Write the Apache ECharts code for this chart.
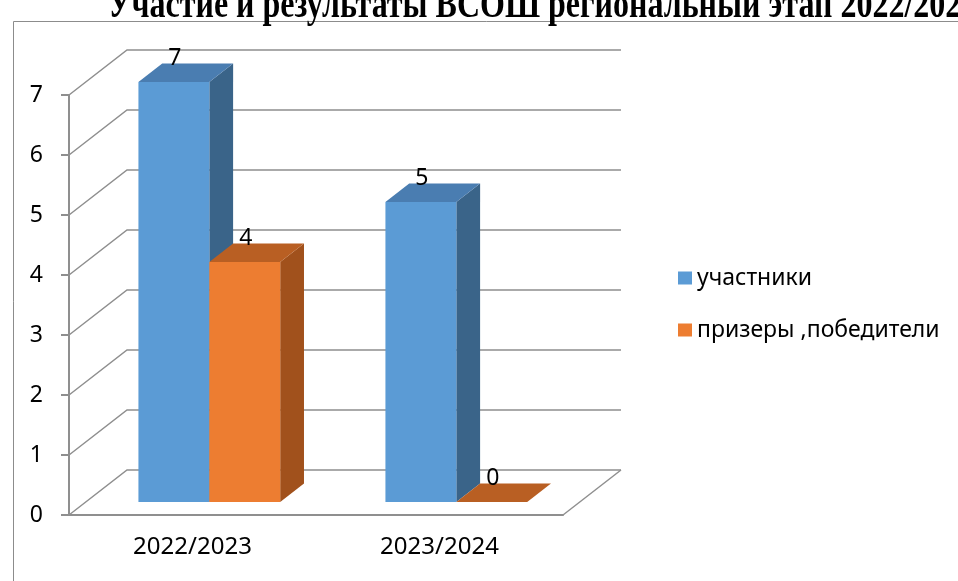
<!DOCTYPE html>
<html>
<head>
<meta charset="utf-8">
<script src="https://cdn.jsdelivr.net/npm/echarts@6/dist/echarts.min.js"></script>
<style>
html, body { margin: 0; padding: 0; background: #fff; }
#chart { width: 958px; height: 581px; }
</style>
</head>
<body>
<div id="chart"></div>
<script>
// данные
var categories = ["2022/2023", "2023/2024"];
var seriesNames = ["участники", "призеры ,победители"];
var participants = [7, 5];
var winners = [4, 0];
var yTicks = [0, 1, 2, 3, 4, 5, 6, 7];
var titleText = "Участие и результаты ВСОШ региональный этап 2022/2024";

var chart = echarts.init(document.getElementById("chart"));

// псевдо-3D: сдвиг задней стенки
var DX = 58, DY = -45;
var FRONT = 0.29, BACK = 0.70;
var BAR = 0.287;
var lineColor = "#8f8f8f";

var faces = [
  { front: "#5B9BD5", top: "#4A7DB1", side: "#3A6489" },
  { front: "#ED7D31", top: "#B95F23", side: "#A1511C" }
];

function wallItem(params, api) {
  var cs = params.coordSys;
  var y = api.coord([0, api.value(1)])[1];
  var x0 = cs.x, x1 = cs.x + cs.width;
  var children = [{
    type: "polyline",
    shape: { points: [[x0, y], [x0 + DX, y + DY], [x1 + DX, y + DY]] },
    style: { stroke: lineColor, lineWidth: 1.5, fill: null },
    silent: true
  }];
  if (api.value(1) === 0) {
    children.push({
      type: "line",
      shape: { x1: x1, y1: y, x2: x1 + DX, y2: y + DY },
      style: { stroke: lineColor, lineWidth: 1.5 },
      silent: true
    });
  }
  return { type: "group", children: children };
}

function barItem(params, api) {
  var k = params.seriesIndex - 1;
  var f = faces[k];
  var c = api.coord([api.value(0), api.value(1)]);
  var base = api.coord([api.value(0), 0]);
  var bw = api.size([1, 0])[0] * BAR;
  var bx = DX * (BACK - FRONT), by = DY * (BACK - FRONT);
  var left = c[0] + DX * FRONT + (k === 0 ? -bw : 0);
  var top = c[1] + DY * FRONT;
  var bottom = base[1] + DY * FRONT;
  return {
    type: "group",
    children: [
      {
        type: "polygon",
        shape: { points: [[left + bw, top], [left + bw + bx, top + by], [left + bw + bx, bottom + by], [left + bw, bottom]] },
        style: { fill: f.side }
      },
      {
        type: "rect",
        shape: { x: left, y: top, width: bw, height: bottom - top },
        style: { fill: f.front }
      },
      {
        type: "polygon",
        shape: { points: [[left, top], [left + bw, top], [left + bw + bx, top + by], [left + bx, top + by]] },
        style: { fill: f.top }
      },
      {
        type: "text",
        style: {
          text: String(api.value(1)),
          x: left + bw / 2 + 1,
          y: top + by + 6,
          align: "center",
          verticalAlign: "bottom",
          fill: "#000",
          font: "23px 'Noto Sans'"
        }
      }
    ]
  };
}

var option = {
  animation: false,
  color: [faces[0].front, faces[1].front],
  graphic: [
    {
      type: "rect",
      shape: { x: 13.5, y: 21.5, width: 1000, height: 700 },
      style: { fill: null, stroke: "#8c8c8c", lineWidth: 1 },
      silent: true
    },
    {
      type: "text",
      x: 108,
      y: 27,
      scaleY: 1.25,
      style: {
        text: titleText,
        x: 0,
        y: 0,
        font: "bold 32px 'Liberation Serif'",
        fill: "#000",
        verticalAlign: "bottom"
      },
      silent: true
    }
  ],
  legend: {
    data: seriesNames,
    orient: "vertical",
    left: 673,
    top: 259,
    icon: "rect",
    itemWidth: 14,
    itemHeight: 13,
    itemGap: 24,
    textStyle: { fontSize: 23, fontFamily: "Noto Sans", color: "#000", lineHeight: 28 }
  },
  grid: { left: 69, top: 95, width: 494, height: 420 },
  xAxis: {
    type: "category",
    data: categories,
    axisLine: { lineStyle: { color: lineColor, width: 2 } },
    axisTick: { length: 7, lineStyle: { color: lineColor, width: 2 } },
    axisLabel: { margin: 20, fontSize: 24, fontFamily: "Noto Sans", color: "#000" }
  },
  yAxis: {
    type: "value",
    min: 0,
    max: 7,
    interval: 1,
    splitLine: { show: false },
    axisLine: { show: true, lineStyle: { color: lineColor, width: 2 } },
    axisTick: { show: true, length: 8, lineStyle: { color: lineColor, width: 2 } },
    axisLabel: { margin: 26, fontSize: 23, fontFamily: "Noto Sans", color: "#000" }
  },
  series: [
    {
      type: "custom",
      renderItem: wallItem,
      data: yTicks.map(function (v) { return [0, v]; }),
      z: 1,
      silent: true
    },
    {
      name: seriesNames[0],
      type: "custom",
      renderItem: barItem,
      itemStyle: { color: faces[0].front },
      data: participants.map(function (v, i) { return [i, v]; }),
      z: 3
    },
    {
      name: seriesNames[1],
      type: "custom",
      renderItem: barItem,
      itemStyle: { color: faces[1].front },
      data: winners.map(function (v, i) { return [i, v]; }),
      z: 4
    }
  ]
};

chart.setOption(option);
</script>
</body>
</html>
